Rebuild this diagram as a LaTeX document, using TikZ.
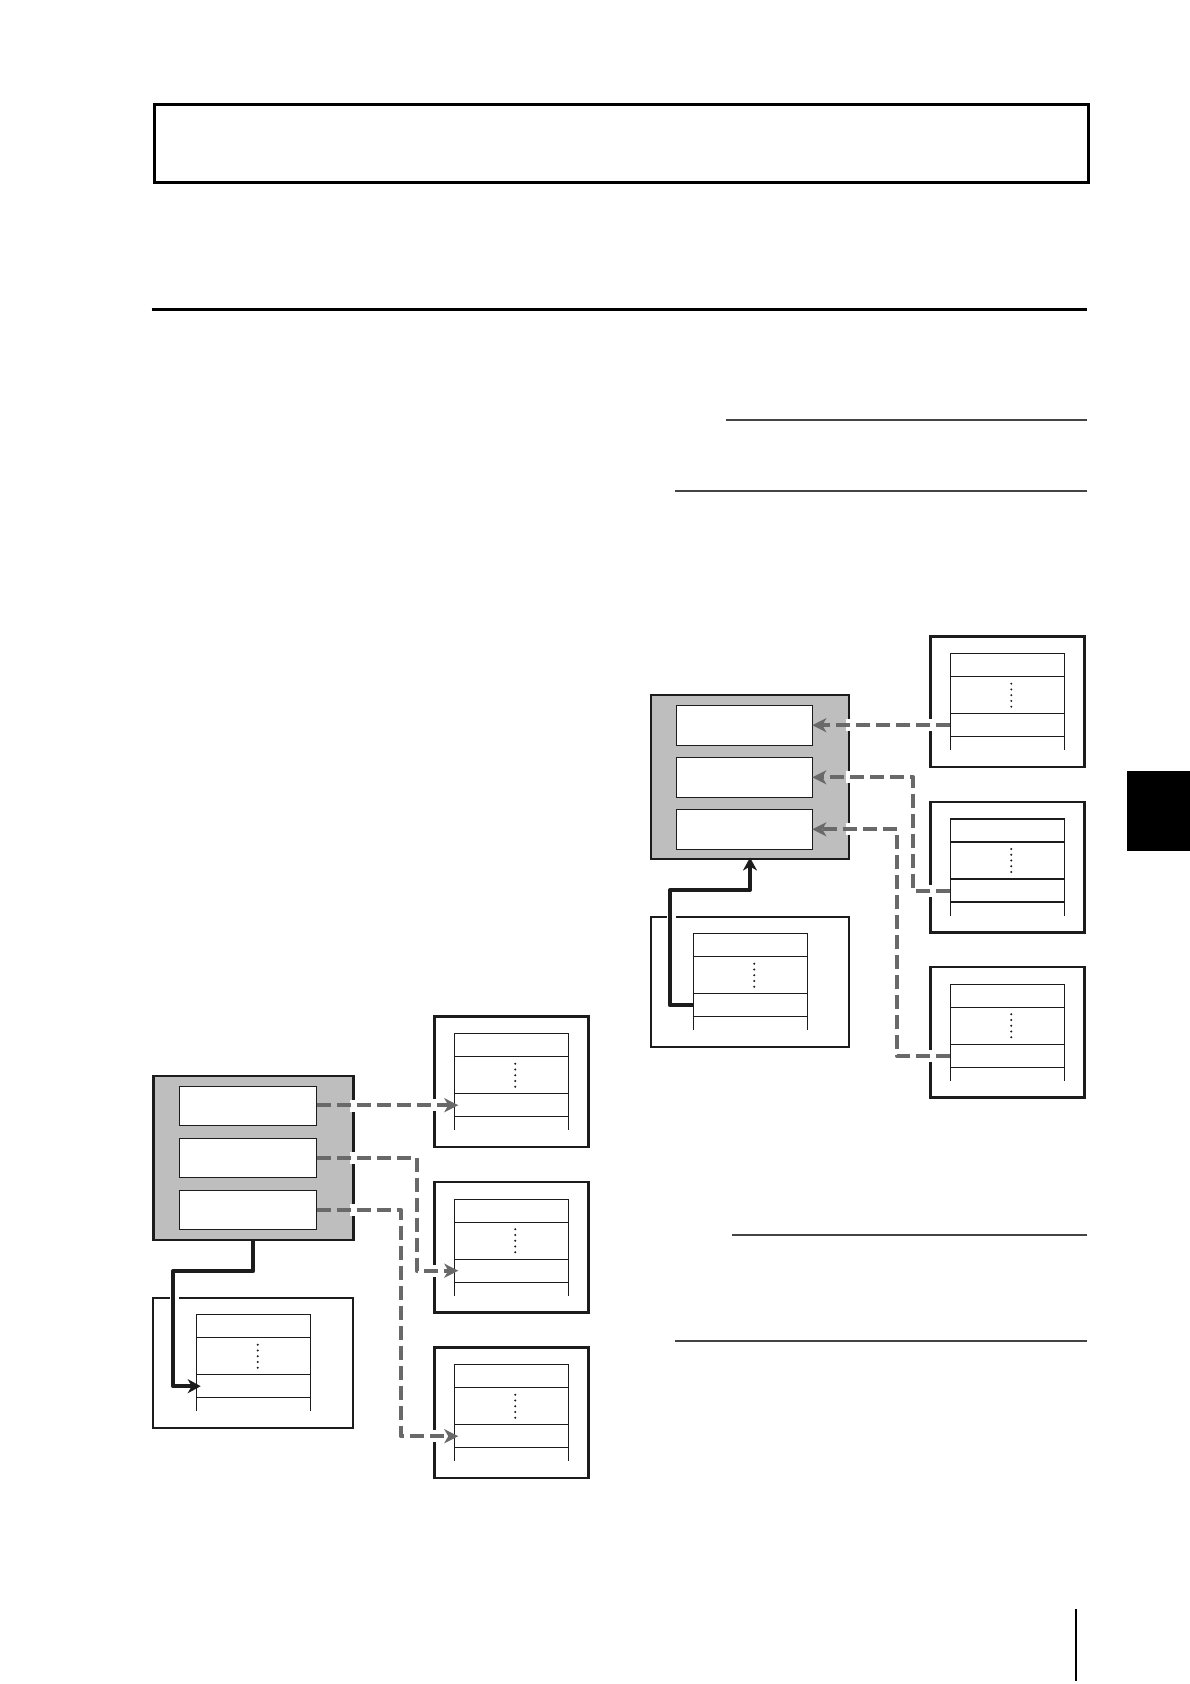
\documentclass[tikz,border=0pt]{standalone}
\usetikzlibrary{arrows.meta,calc}
\definecolor{boxgrayfill}{RGB}{190,190,190}
\definecolor{dashgray}{RGB}{105,105,105}
\definecolor{rulegray}{RGB}{68,68,68}
\definecolor{inkblack}{RGB}{28,28,28}
\tikzset{
  recouter/.style={draw=inkblack, fill=white, inner sep=0pt, outer sep=0pt, anchor=north west},
  boxgray/.style={draw=inkblack, line width=2.6pt, fill=boxgrayfill, inner sep=0pt, outer sep=0pt, anchor=north west},
  boxwhite/.style={draw=inkblack, line width=1.3pt, fill=white, inner sep=0pt, outer sep=0pt, anchor=north west},
  tblline/.style={draw=inkblack, line width=1.2pt},
  dasharr/.style={draw=dashgray, line width=4pt, dash pattern=on 14pt off 6pt, line join=round,
    -{Stealth[length=14pt,width=14pt,inset=4pt]}},
  solidarr/.style={draw=inkblack, line width=4pt, line join=round,
    -{Stealth[length=13pt,width=14pt,inset=4pt]}},
  thinrule/.style={draw=rulegray, line width=2pt},
}
\newcommand\recbox[6]{%
  \node[recouter, line width=#6, minimum width=#4pt, minimum height=130.5pt] (#1) at (#2,#3) {};
  \draw[tblline] ({#2+#5},{#3+113.5}) -- ({#2+#5},{#3+17}) -- ({#2+#5+114},{#3+17}) -- ({#2+#5+114},{#3+113.5});
  \foreach \rr in {40,77,100} \draw[tblline] ({#2+#5},{#3+\rr}) -- ++(114,0);
  \foreach \kk in {0,...,4} \fill[inkblack] ({#2+#5+61},{#3+47+\kk*5.75}) circle (1.1pt);
  \coordinate (#1-r) at ({#2+#5},{#3+88.5});
}
\newcommand\halo[1]{\fill[white] ($#1+(-3,-6)$) rectangle +(6,12);}
\begin{document}
\begin{tikzpicture}[x=1pt,y=-1pt]
\useasboundingbox[fill=white] (0,0) rectangle (1190,1684);

% header
\node[draw=black, line width=3pt, inner sep=0pt, anchor=north west, minimum width=934pt, minimum height=77.7pt] (title) at (152.7,103) {};
\draw[line width=3pt, black] (151.7,309.3) -- (1087,309.3);
\draw[thinrule] (726,420) -- (1087,420);
\draw[thinrule] (675,490.7) -- (1087,490.7);
\draw[thinrule] (732,1235) -- (1087,1235);
\draw[thinrule] (675,1340.7) -- (1087,1340.7);

% side tab and page rule
\fill[black] (1127,771) rectangle (1190,851);
\draw[line width=2.2pt, black] (1075.7,1609.3) -- (1075.7,1681);

% ---------- left diagram ----------
\recbox{LR1}{434.7}{1016.7}{153.6}{19.6}{2.5pt}
\recbox{LR2}{434.7}{1182.2}{153.6}{19.6}{2.5pt}
\recbox{LR3}{434.7}{1347.7}{153.6}{19.6}{2.5pt}
\recbox{LL}{153.3}{1297.7}{200}{43.4}{2pt}
\node[boxgray, minimum width=200pt, minimum height=164pt] (LG) at (153.3,1076) {};
\node[boxwhite, minimum width=137.4pt, minimum height=39pt] (LW1) at (179.3,1086.7) {};
\node[boxwhite, minimum width=137.4pt, minimum height=39pt] (LW2) at (179.3,1138.3) {};
\node[boxwhite, minimum width=137.4pt, minimum height=39pt] (LW3) at (179.3,1190.3) {};
\coordinate (LB2) at (416.7,1157.8);
\coordinate (LB3) at (400.7,1209.8);
\coordinate (LS) at (173.3,1271);

\halo{(LG.east |- LW1.east)}
\halo{(LG.east |- LW2.east)}
\halo{(LG.east |- LW3.east)}
\halo{(LR1.west |- LR1-r)}
\halo{(LR2.west |- LR2-r)}
\halo{(LR3.west |- LR3-r)}
\fill[white] ($(LS |- LL.north)+(-3.5,-3)$) rectangle +(9,6);

\draw[dasharr] (LW1.east |- LR1-r) -- ($(LR1-r)+(4,0)$);
\draw[dasharr] (LW2.east) -- (LW2.east -| LB2) -- (LB2 |- LR2-r) -- ($(LR2-r)+(4,0)$);
\draw[dasharr] (LW3.east) -- (LW3.east -| LB3) -- (LB3 |- LR3-r) -- ($(LR3-r)+(4,0)$);
\draw[solidarr] (LG.south) -- (LG.south |- LS) -- (LS) -- (LS |- LL-r) -- ($(LL-r)+(4,0)$);

% ---------- right diagram ----------
\recbox{RR1}{930.7}{636.7}{153.6}{19.6}{2.5pt}
\recbox{RR2}{930.7}{802}{153.6}{19.6}{2.5pt}
\recbox{RR3}{930.7}{967.2}{153.6}{19.6}{2.5pt}
\recbox{RL}{651}{916.7}{198}{42.3}{2pt}
\node[boxgray, minimum width=198pt, minimum height=164pt] (RG) at (651,695) {};
\node[boxwhite, minimum width=136pt, minimum height=40pt] (RW1) at (676.3,705.7) {};
\node[boxwhite, minimum width=136pt, minimum height=40pt] (RW2) at (676.3,757.3) {};
\node[boxwhite, minimum width=136pt, minimum height=40pt] (RW3) at (676.3,809.3) {};
\coordinate (RB2) at (913.3,800);
\coordinate (RB3) at (896.7,900);
\coordinate (RS) at (670,890);

\halo{(RG.east |- RR1-r)}
\halo{(RG.east |- RW2.east)}
\halo{(RG.east |- RW3.east)}
\halo{(RR1.west |- RR1-r)}
\halo{(RR2.west |- RR2-r)}
\halo{(RR3.west |- RR3-r)}
\fill[white] ($(RS |- RL.north)+(-3.5,-3)$) rectangle +(9,6);

\draw[dasharr] (RR1-r) -- (RW1.east |- RR1-r);
\draw[dasharr] (RR2-r) -- (RR2-r -| RB2) -- (RB2 |- RW2.east) -- (RW2.east);
\draw[dasharr] (RR3-r) -- (RR3-r -| RB3) -- (RB3 |- RW3.east) -- (RW3.east);
\draw[solidarr] (RL-r) -- (RL-r -| RS) -- (RS) -- (RS -| RG.south) -- ($(RG.south)+(0,-1.5)$);
\end{tikzpicture}
\end{document}
